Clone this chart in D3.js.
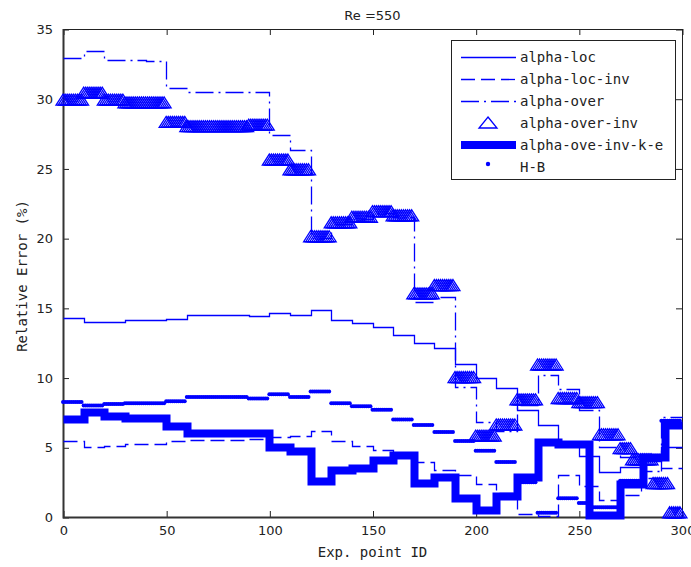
<!DOCTYPE html>
<html>
<head>
<meta charset="utf-8">
<script src="https://cdn.jsdelivr.net/npm/d3@7"></script>
<style>
  body { margin: 0; background: #fff; }
  .tick text { font-family: "DejaVu Sans", sans-serif; font-size: 13px; fill: #222; }
  .lbl { font-family: "DejaVu Sans Mono", monospace; font-size: 14px; fill: #222; }
</style>
</head>
<body>
<div id="chart"></div>
<script>
// step starts (Exp. point ID) and values (Relative Error %)
var xBreaks = [0, 10, 20, 30, 40, 50, 60, 70, 80, 90, 100, 110, 120, 130, 140,
               150, 160, 170, 180, 190, 200, 210, 220, 230, 240, 250, 260, 270, 280, 290]

var alphaLoc = [14.25, 13.95, 14.0, 14.13, 14.13, 14.22, 14.5, 14.5, 14.5, 14.42,
                14.66, 14.5, 14.85, 14.13, 13.9, 13.65, 13.03, 12.5, 12.1, 11.0,
                10.0, 9.25, 7.7, 6.6, 5.3, 4.4, 3.2, 3.6, 4.0, 5.0]

var alphaLocInv = [5.45, 5.0, 5.1, 5.2, 5.2, 5.45, 5.5, 5.5, 5.5, 5.6,
                   5.75, 5.8, 6.15, 5.45, 5.1, 4.8, 4.5, 3.95, 3.4, 3.0,
                   2.4, 1.7, 0.2, 0.1, 3.0, 2.2, 1.2, 1.6, 2.8, 3.5]

var alphaOver = [32.95, 33.45, 32.75, 32.75, 32.7, 30.8, 30.45, 30.45, 30.45, 30.5,
                 27.4, 26.3, 20.0, 21.0, 21.4, 21.8, 21.5, 15.4, 15.8, 9.3,
                 6.8, 6.2, 8.0, 10.2, 9.2, 7.7, 5.0, 4.3, 3.3, 7.2]

var overInvX = [0, 10, 20, 30, 40, 50, 60, 70, 80, 90, 100, 110, 120, 130, 140,
                150, 160, 170, 180, 190, 200, 210, 220, 230, 240, 250, 260, 270, 276, 286, 294]
var alphaOverInv = [29.9, 30.4, 29.9, 29.7, 29.7, 28.3, 28.0, 28.0, 28.0, 28.1,
                    25.6, 24.9, 20.1, 21.1, 21.5, 21.9, 21.6, 16.0, 16.6, 10.0,
                    5.8, 6.6, 8.4, 10.9, 8.5, 8.2, 5.9, 4.9, 4.1, 2.4, 0.3]

var keX = [0, 10, 20, 30, 50, 60, 100, 110, 120, 130, 140, 150, 160, 170, 180,
           190, 200, 210, 220, 230, 240, 255, 270, 281, 292]
var alphaKe = [7.0, 7.55, 7.25, 7.1, 6.5, 6.0, 5.05, 4.75, 2.6, 3.35, 3.5, 4.1, 4.45, 2.45, 2.9,
               1.35, 0.5, 1.5, 2.85, 5.4, 5.2, 0.15, 2.4, 4.3, 6.6]

var hbX = [0, 10, 20, 30, 50, 60, 90, 100, 110, 120, 130, 140, 150, 160, 170,
           180, 190, 200, 210, 220, 230, 240, 250, 255, 270, 280, 290]
var hb = [8.25, 8.0, 8.1, 8.15, 8.3, 8.6, 8.5, 8.8, 8.6, 9.0, 8.15, 7.95, 7.7, 7.0, 6.6,
          6.1, 5.45, 4.75, 3.95, 2.5, 0.3, 1.35, 1.0, 0.7, 2.6, 4.4, 6.9]

var xTicks = [0, 50, 100, 150, 200, 250, 300]
var yTicks = [0, 5, 10, 15, 20, 25, 30, 35]
var legendNames = ["alpha-loc", "alpha-loc-inv", "alpha-over", "alpha-over-inv", "alpha-ove-inv-k-e", "H-B"]

drawChart()

function drawChart() {
  var W = 691, H = 567
  var blue = "#0000ff"
  var pLeft = 63, pRight = 682, pTop = 29, pBottom = 517
  var xEnd = 300

  var svg = d3.select("#chart").append("svg").attr("width", W).attr("height", H)

  var x = d3.scaleLinear().domain([0, 300]).range([pLeft, pRight])
  var y = d3.scaleLinear().domain([0, 35]).range([pBottom, pTop])

  // axes (ticks inside, MATLAB style)
  svg.append("g").attr("transform", "translate(0.5," + pBottom + ")")
    .call(d3.axisBottom(x).tickValues(xTicks).tickSizeInner(-6).tickSizeOuter(0).tickPadding(9))
  svg.append("g").attr("transform", "translate(0.5," + pTop + ")")
    .call(d3.axisTop(x).tickValues(xTicks).tickSizeInner(-6).tickSizeOuter(0).tickFormat(""))
  svg.append("g").attr("transform", "translate(" + pLeft + ",0.5)")
    .call(d3.axisLeft(y).tickValues(yTicks).tickSizeInner(-6).tickSizeOuter(0).tickPadding(10))
  svg.append("g").attr("transform", "translate(" + pRight + ",0.5)")
    .call(d3.axisRight(y).tickValues(yTicks).tickSizeInner(-6).tickSizeOuter(0).tickFormat(""))

  svg.selectAll(".domain").remove()
  svg.selectAll(".tick line").attr("stroke", "#222")

  svg.append("rect")
    .attr("x", pLeft + 0.5).attr("y", pTop + 0.5)
    .attr("width", pRight - pLeft).attr("height", pBottom - pTop)
    .attr("fill", "none").attr("stroke", "#222").attr("stroke-width", 1)
  svg.append("path")
    .attr("d", "M" + (pLeft + 0.5) + "," + pTop + "V" + (pBottom + 0.5) + "H" + pRight)
    .attr("fill", "none").attr("stroke", "#333").attr("stroke-width", 2)

  // titles
  svg.append("text").attr("x", (pLeft + pRight) / 2).attr("y", 20)
    .attr("text-anchor", "middle")
    .style("font-family", "DejaVu Sans, sans-serif").style("font-size", "13px").style("fill", "#222")
    .text("Re =550")
  svg.append("text").attr("class", "lbl").attr("x", (pLeft + pRight) / 2).attr("y", 557)
    .attr("text-anchor", "middle").text("Exp. point ID")
  svg.append("text").attr("class", "lbl")
    .attr("transform", "translate(27,276) rotate(-90)")
    .attr("text-anchor", "middle").text("Relative Error (%)")

  function stepPts(xs, vs) {
    var p = xs.map(function (d, i) { return [d, vs[i]] })
    p.push([xEnd, vs[vs.length - 1]])
    return p
  }

  function pointPts(xs, vs) {
    var p = []
    xs.forEach(function (s, i) {
      var e = i < xs.length - 1 ? xs[i + 1] : xEnd
      for (var k = s; k < e; k++) p.push([k, vs[i]])
    })
    return p
  }

  var line = d3.line()
    .x(function (d) { return Math.round(x(d[0])) + 0.5 })
    .y(function (d) { return Math.round(y(d[1])) + 0.5 })
    .curve(d3.curveStepAfter)

  var plot = svg.append("g")
  var thin = 1.3

  plot.append("path").datum(stepPts(xBreaks, alphaLoc))
    .attr("d", line).attr("fill", "none").attr("stroke", blue).attr("stroke-width", thin)

  plot.append("path").datum(stepPts(xBreaks, alphaLocInv))
    .attr("d", line).attr("fill", "none").attr("stroke", blue).attr("stroke-width", thin)
    .attr("stroke-dasharray", "14,6")

  plot.append("path").datum(stepPts(xBreaks, alphaOver))
    .attr("d", line).attr("fill", "none").attr("stroke", blue).attr("stroke-width", thin)
    .attr("stroke-dasharray", "18,5,2,5")

  var tri = "M0,-6L7,5L-7,5Z"
  plot.append("g").selectAll("path").data(pointPts(overInvX, alphaOverInv))
    .enter().append("path")
    .attr("d", tri)
    .attr("transform", function (d) { return "translate(" + x(d[0]) + "," + y(d[1]) + ")" })
    .attr("fill", "none").attr("stroke", blue).attr("stroke-width", 1.3)

  plot.append("path").datum(stepPts(keX, alphaKe))
    .attr("d", line).attr("fill", "none").attr("stroke", blue).attr("stroke-width", 8)

  plot.append("g").selectAll("circle").data(pointPts(hbX, hb))
    .enter().append("circle")
    .attr("cx", function (d) { return x(d[0]) })
    .attr("cy", function (d) { return y(d[1]) })
    .attr("r", 2).attr("fill", blue)

  // legend
  var lg = svg.append("g")
  lg.append("rect").attr("x", 451.5).attr("y", 40.5).attr("width", 224).attr("height", 139)
    .attr("fill", "#fff").attr("stroke", "#222").attr("stroke-width", 1)

  var rows = lg.selectAll("g.row").data(legendNames).enter().append("g")
    .attr("class", "row")
    .attr("transform", function (d, i) { return "translate(0," + (57 + i * 22) + ")" })

  rows.append("text").attr("class", "lbl").attr("x", 520).attr("y", 5).text(function (d) { return d })

  rows.each(function (d, i) {
    var r = d3.select(this)
    if (i < 3) {
      r.append("line").attr("x1", 461).attr("x2", 516).attr("y1", 0.5).attr("y2", 0.5)
        .attr("stroke", blue).attr("stroke-width", thin)
        .attr("stroke-dasharray", i === 1 ? "14,6" : i === 2 ? "18,5,2,5" : null)
    } else if (i === 3) {
      r.append("path").attr("d", "M0,-6L9,5L-9,5Z").attr("transform", "translate(488,0)")
        .attr("fill", "none").attr("stroke", blue).attr("stroke-width", 1.3)
    } else if (i === 4) {
      r.append("line").attr("x1", 461).attr("x2", 516).attr("y1", 0).attr("y2", 0)
        .attr("stroke", blue).attr("stroke-width", 8)
    } else {
      r.append("circle").attr("cx", 488).attr("cy", -3).attr("r", 2.2).attr("fill", blue)
    }
  })
}
</script>
</body>
</html>
